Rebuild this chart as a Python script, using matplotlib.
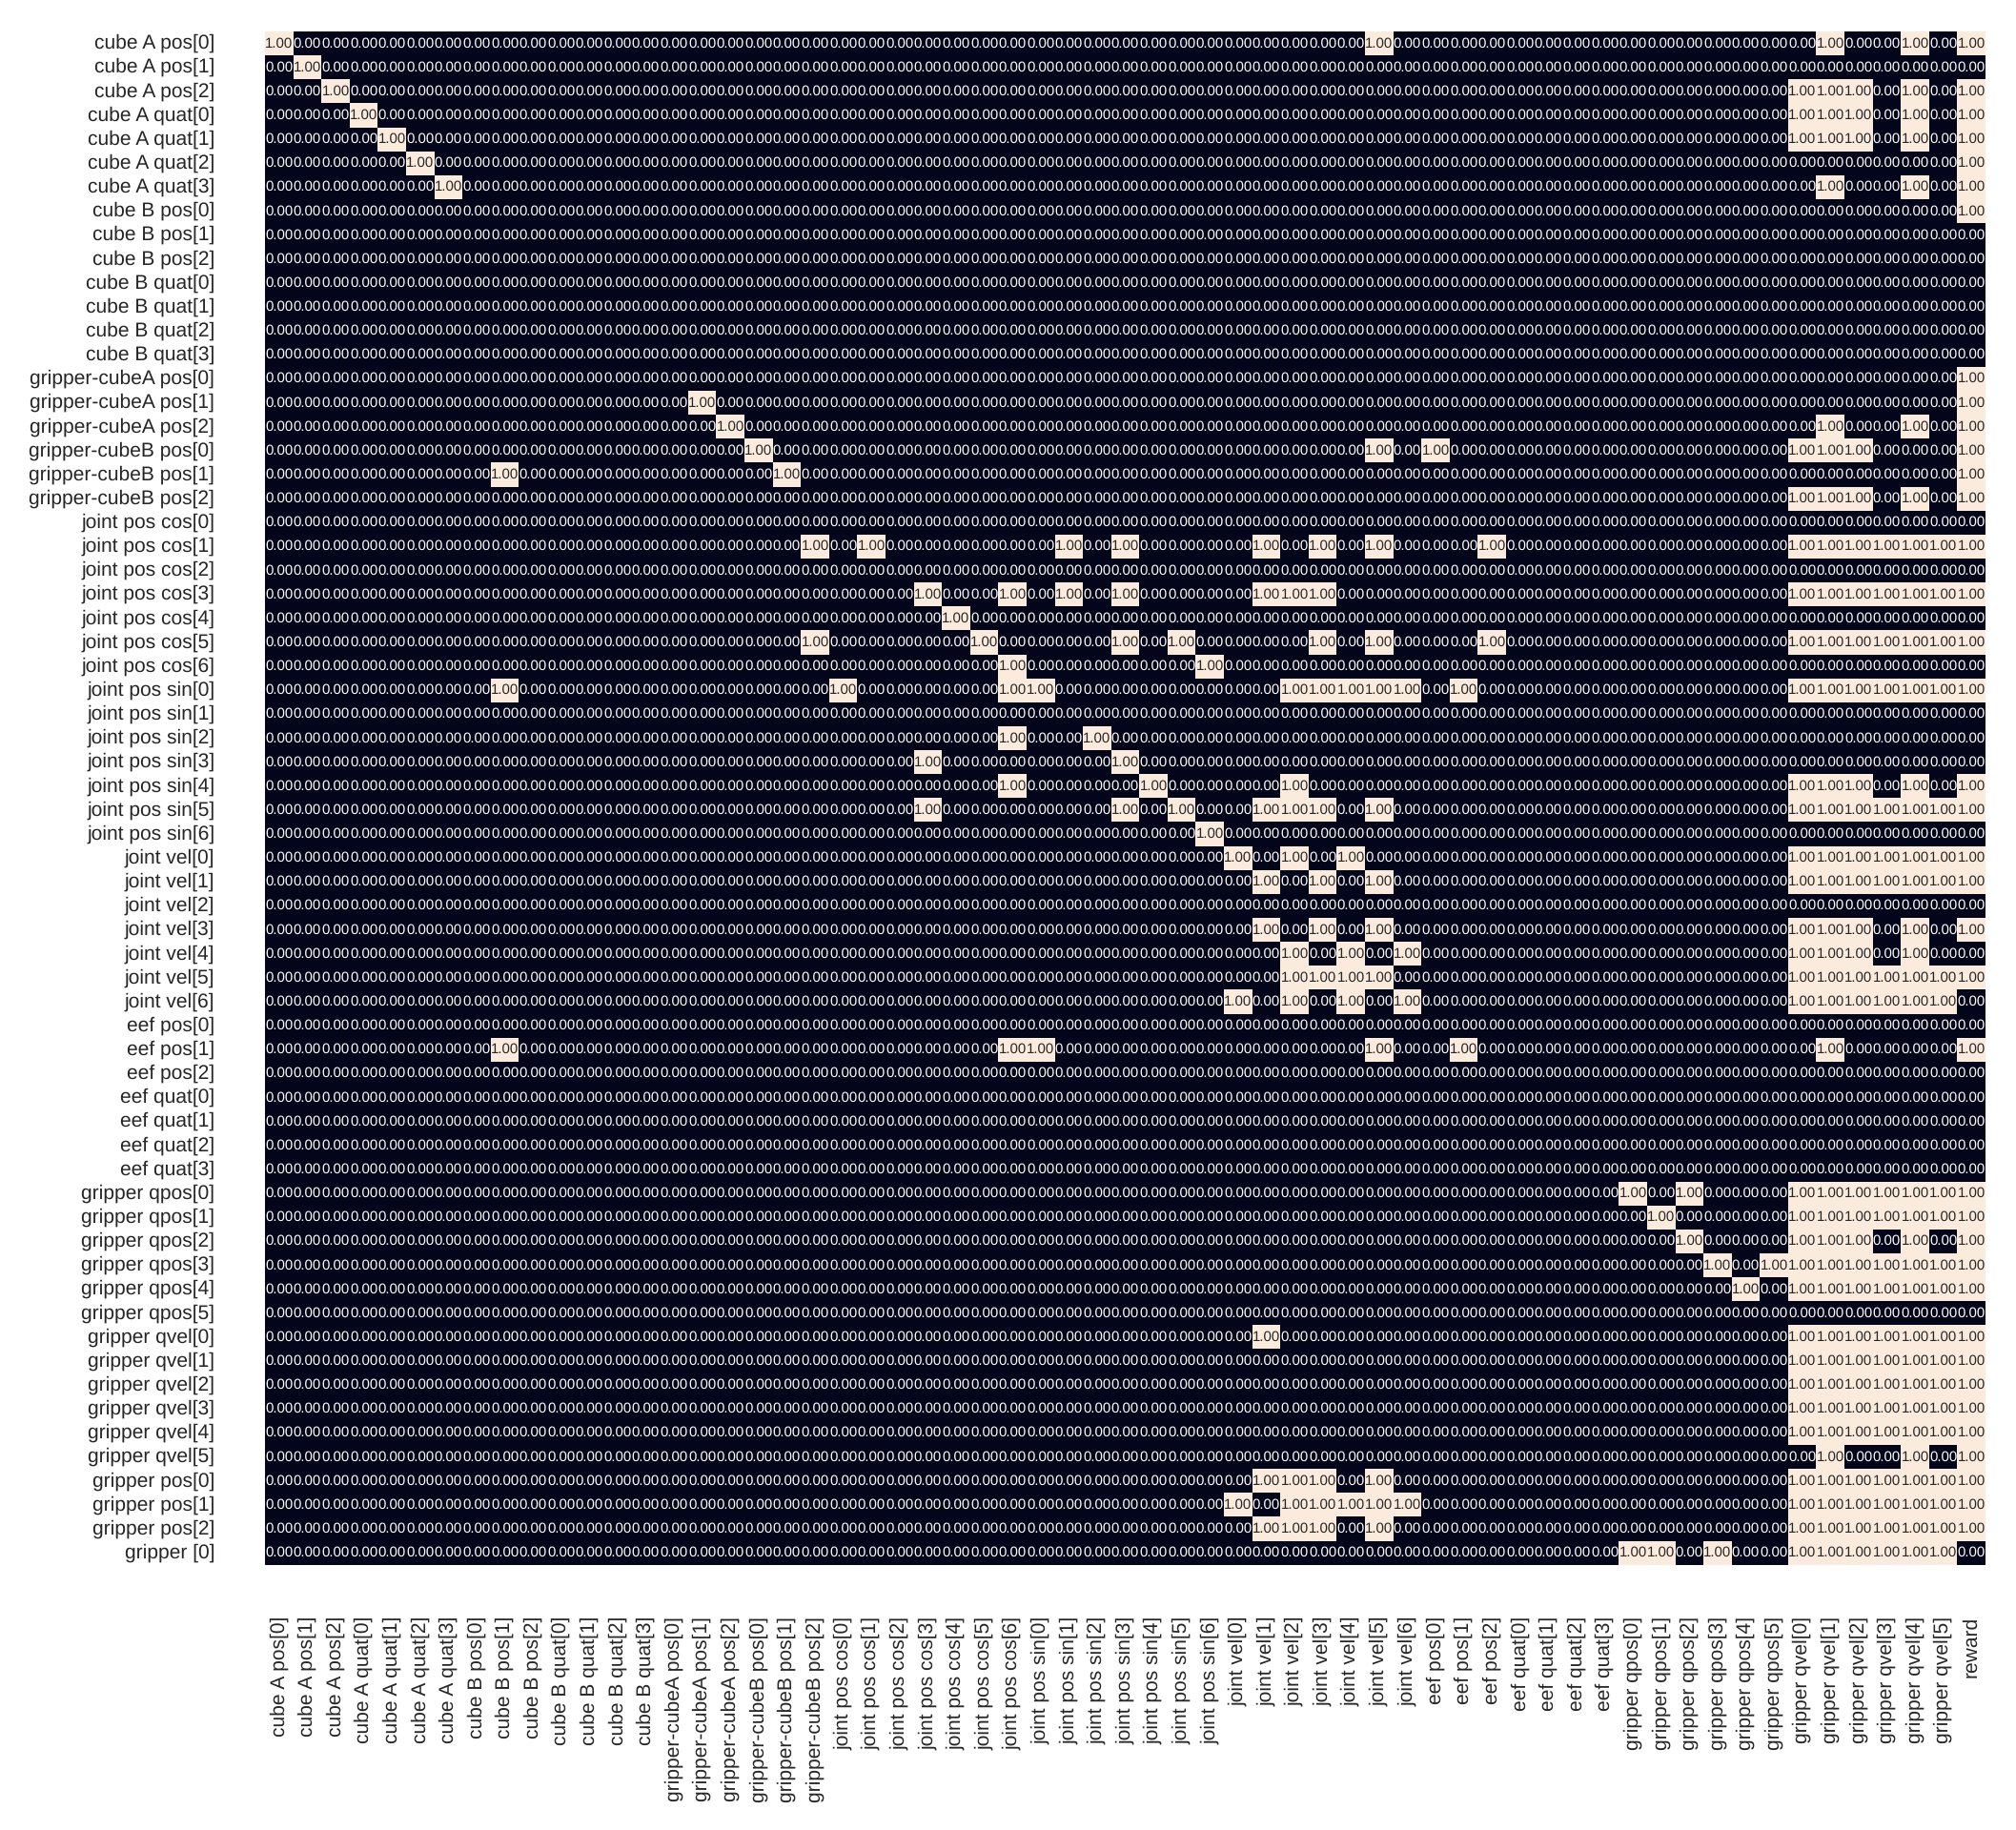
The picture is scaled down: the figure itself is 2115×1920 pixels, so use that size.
import numpy as np
import matplotlib
matplotlib.use("Agg")
import matplotlib.pyplot as plt
import seaborn as sns

row_labels = [
    "cube A pos[0]", "cube A pos[1]", "cube A pos[2]",
    "cube A quat[0]", "cube A quat[1]", "cube A quat[2]", "cube A quat[3]",
    "cube B pos[0]", "cube B pos[1]", "cube B pos[2]",
    "cube B quat[0]", "cube B quat[1]", "cube B quat[2]", "cube B quat[3]",
    "gripper-cubeA pos[0]", "gripper-cubeA pos[1]", "gripper-cubeA pos[2]",
    "gripper-cubeB pos[0]", "gripper-cubeB pos[1]", "gripper-cubeB pos[2]",
    "joint pos cos[0]", "joint pos cos[1]", "joint pos cos[2]", "joint pos cos[3]",
    "joint pos cos[4]", "joint pos cos[5]", "joint pos cos[6]",
    "joint pos sin[0]", "joint pos sin[1]", "joint pos sin[2]", "joint pos sin[3]",
    "joint pos sin[4]", "joint pos sin[5]", "joint pos sin[6]",
    "joint vel[0]", "joint vel[1]", "joint vel[2]", "joint vel[3]",
    "joint vel[4]", "joint vel[5]", "joint vel[6]",
    "eef pos[0]", "eef pos[1]", "eef pos[2]",
    "eef quat[0]", "eef quat[1]", "eef quat[2]", "eef quat[3]",
    "gripper qpos[0]", "gripper qpos[1]", "gripper qpos[2]",
    "gripper qpos[3]", "gripper qpos[4]", "gripper qpos[5]",
    "gripper qvel[0]", "gripper qvel[1]", "gripper qvel[2]",
    "gripper qvel[3]", "gripper qvel[4]", "gripper qvel[5]",
    "gripper pos[0]", "gripper pos[1]", "gripper pos[2]", "gripper [0]",
]
col_labels = row_labels[:60] + ["reward"]

# column positions holding 1.00, per row (all other cells are 0.00)
A = [54, 55, 56, 58, 60]
Q = [54, 55, 56, 57, 58, 59, 60]
ones_by_row = [
    [0, 39, 55, 58, 60],            # cube A pos[0]
    [1],
    [2] + A,
    [3] + A,
    [4] + A,
    [5, 60],
    [6, 55, 58, 60],
    [60],
    [], [], [], [], [], [],
    [60],                           # gripper-cubeA pos[0]
    [15, 60],
    [16, 55, 58, 60],
    [17, 39, 41, 54, 55, 56, 60],
    [8, 18, 60],
    A,
    [],                             # joint pos cos[0]
    [19, 21, 28, 30, 35, 37, 39, 43] + Q,
    [],
    [23, 26, 28, 30, 35, 36, 37] + Q,
    [24],
    [19, 25, 30, 32, 37, 39, 43] + Q,
    [26, 33],
    [8, 20, 26, 27, 36, 37, 38, 39, 40, 42] + Q,  # joint pos sin[0]
    [],
    [26, 29],
    [23, 30],
    [26, 31, 36] + A,
    [23, 30, 32, 35, 36, 37, 39] + Q,
    [33],
    [34, 36, 38] + Q,               # joint vel[0]
    [35, 37, 39] + Q,
    [],
    [35, 37, 39] + A,
    [36, 38, 40, 54, 55, 56, 58],
    [36, 37, 38, 39] + Q,
    [34, 36, 38, 40, 54, 55, 56, 57, 58, 59],
    [],                             # eef pos[0]
    [8, 26, 27, 39, 42, 55, 60],
    [], [], [], [], [],
    [48, 50] + Q,                   # gripper qpos[0]
    [49] + Q,
    [50] + A,
    [51, 53] + Q,
    [52] + Q,
    [],
    [35] + Q,                       # gripper qvel[0]
    Q, Q, Q, Q,
    [55, 58, 60],
    [35, 36, 37, 39] + Q,           # gripper pos[0]
    [34, 36, 37, 38, 39, 40] + Q,
    [35, 36, 37, 39] + Q,
    [48, 49, 51, 54, 55, 56, 57, 58, 59],
]

W, H = 2115, 1920
DPI = 100
matrix = np.zeros((len(row_labels), len(col_labels)))
for r, cols in enumerate(ones_by_row):
    for c in cols:
        matrix[r, c] = 1.0

sns.set_style("white")
plt.rcParams["font.family"] = ["Liberation Sans", "DejaVu Sans"]
plt.rcParams["text.color"] = ".15"
plt.rcParams["text.hinting"] = "no_hinting"
plt.rcParams["text.hinting_factor"] = 1

fig = plt.figure(figsize=(W / DPI, H / DPI), dpi=DPI)
ax = fig.add_axes([278 / W, 1 - 1641.7 / H, (2083 - 278) / W, (1641.7 - 33) / H])
sns.heatmap(matrix, ax=ax, annot=True, fmt=".2f", annot_kws={"size": 11},
            cbar=False, vmin=0, vmax=1, cmap="rocket",
            xticklabels=col_labels, yticklabels=row_labels)
ax.tick_params(axis="both", length=0, labelsize=15, labelcolor=".15")
ax.tick_params(axis="y", pad=38)
ax.tick_params(axis="x", pad=39)
plt.setp(ax.get_yticklabels(), rotation=0, ha="right", va="center")
plt.setp(ax.get_xticklabels(), rotation=90, ha="center", va="top")
fig.savefig("out.png", dpi=DPI, facecolor="white")
